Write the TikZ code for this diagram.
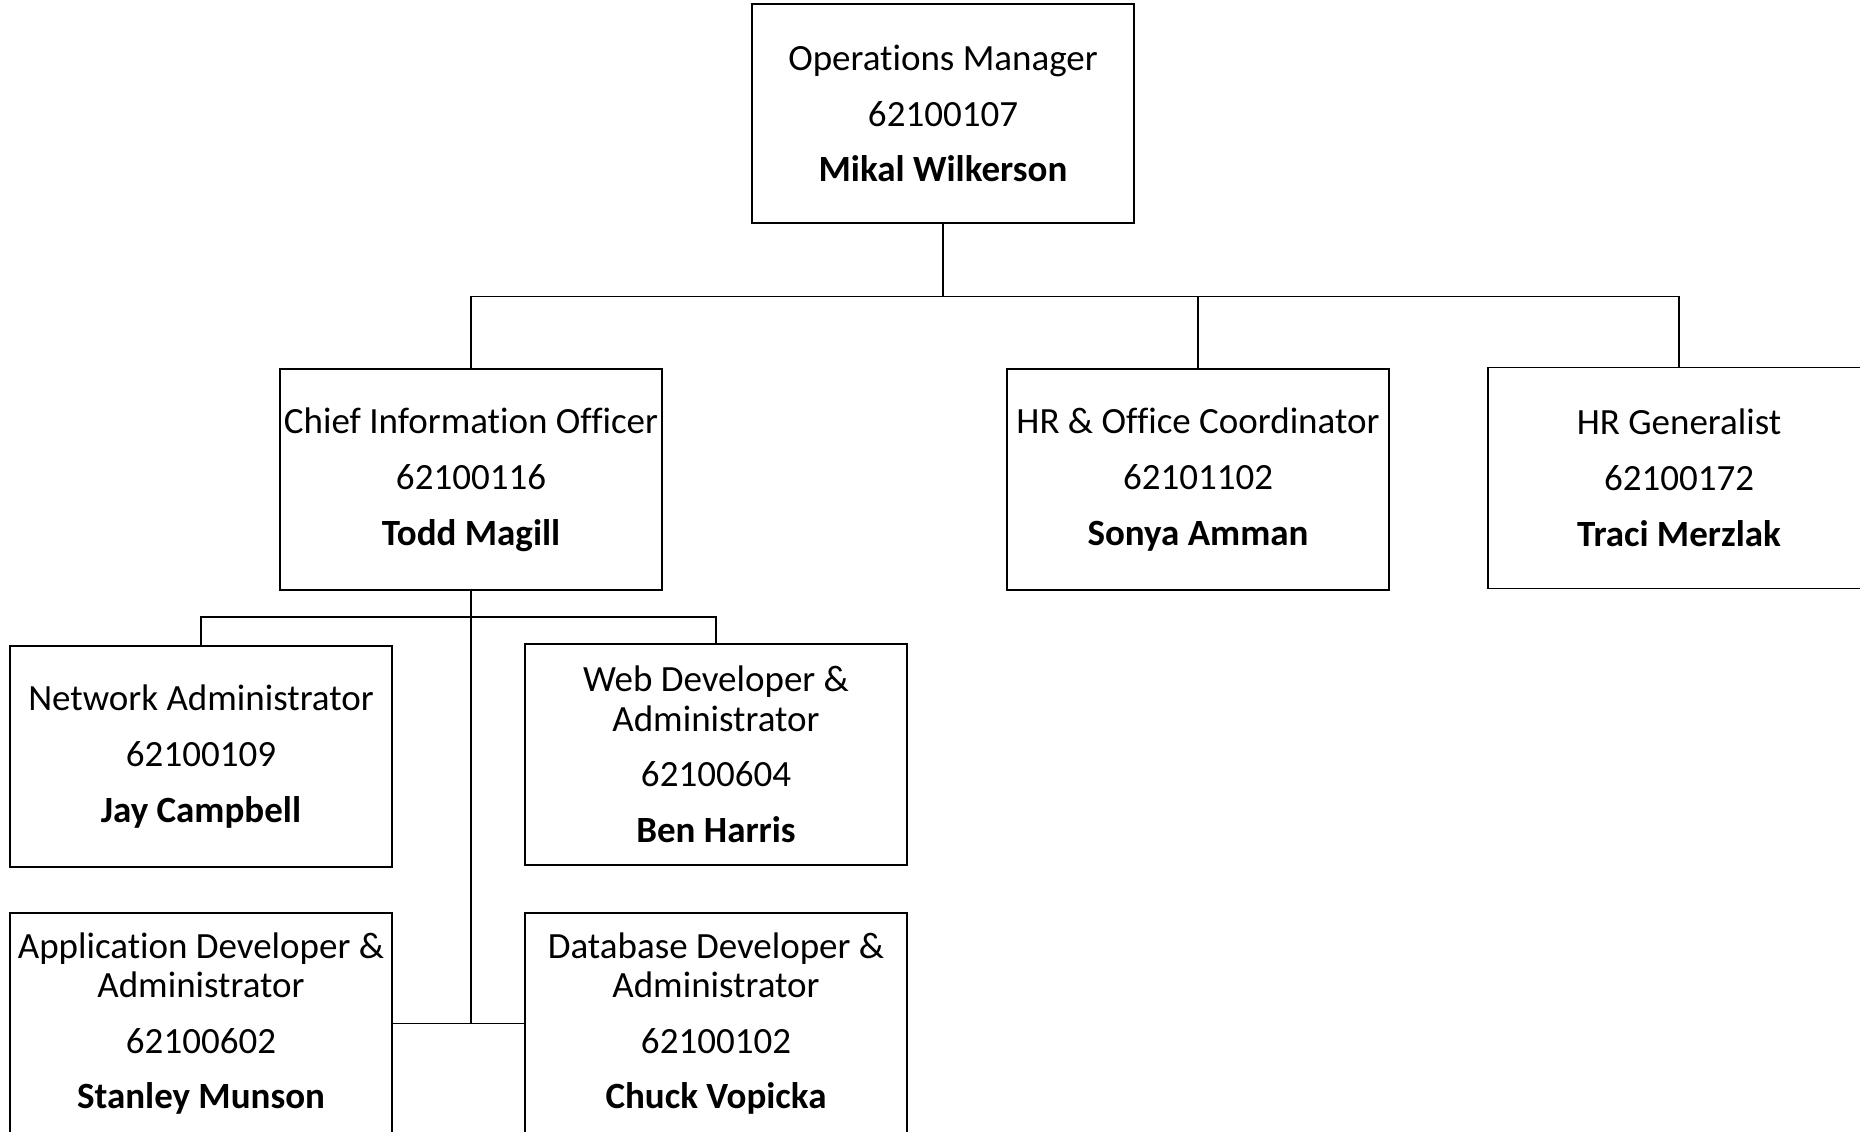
\documentclass[tikz,border=0pt]{standalone}
\usepackage{fontspec}
\setmainfont[Ligatures=NoCommon]{Carlito}
\tikzset{
  staffbox/.style={draw, line width=1.5pt, align=center, inner sep=0pt,
    minimum width=382pt, minimum height=221pt, font=\fontsize{37}{39.2}\selectfont},
  orgline/.style={line width=1.5pt}
}
\begin{document}
\begin{tikzpicture}[x=1pt, y=-1pt]
        \clip (0,0) rectangle (1860,1132);
        % the boxes
        \node[staffbox, minimum height=219pt] (opsmanager) at (943,113.5)
          {Operations Manager\\[16.6pt] 62100107\\[16.6pt] \textbf{Mikal Wilkerson}};
        \node[staffbox] (cio)      at (471,479.5)
          {Chief Information Officer\\[16.6pt] 62100116\\[16.6pt] \textbf{Todd Magill}};
        \node[staffbox] (hroffice) at (1198,479.5)
          {HR \& Office Coordinator\\[16.6pt] 62101102\\[16.6pt] \textbf{Sonya Amman}};
        \node[staffbox] (hrgen)    at (1679,478)
          {HR Generalist\\[16.6pt] 62100172\\[16.6pt] \textbf{Traci Merzlak}};
        \node[staffbox] (netadmin) at (201,756.5)
          {Network Administrator\\[16.6pt] 62100109\\[16.6pt] \textbf{Jay Campbell}};
        \node[staffbox] (webdev)   at (716,754.5)
          {Web Developer \&\\ Administrator\\[16.6pt] 62100604\\[16.6pt] \textbf{Ben Harris}};
        \node[staffbox] (appdev)   at (201,1023.5)
          {Application Developer \&\\ Administrator\\[16.6pt] 62100602\\[16.6pt] \textbf{Stanley Munson}};
        \node[staffbox] (dbdev)    at (716,1023.5)
          {Database Developer \&\\ Administrator\\[16.6pt] 62100102\\[16.6pt] \textbf{Chuck Vopicka}};
        % coordinates for the buses
        \coordinate (topbus) at (943,296.6);
        \coordinate (itbus)  at (471,617);
        % drawing the top level lines
        \draw[orgline] (opsmanager.south) -- (topbus);
        \draw[orgline] (cio.north) -- (cio.north |- topbus) -- (hrgen.north |- topbus) -- (hrgen.north);
        \draw[orgline] (hroffice.north) -- (hroffice.north |- topbus);
        % drawing the it lines
        \draw[orgline] (netadmin.north) -- (netadmin.north |- itbus) -- (webdev.north |- itbus) -- (webdev.north);
        \draw[orgline] (cio.south) -- (cio.south |- appdev.east);
        \draw[orgline] (appdev.east) -- (dbdev.west);
      \end{tikzpicture}
\end{document}
